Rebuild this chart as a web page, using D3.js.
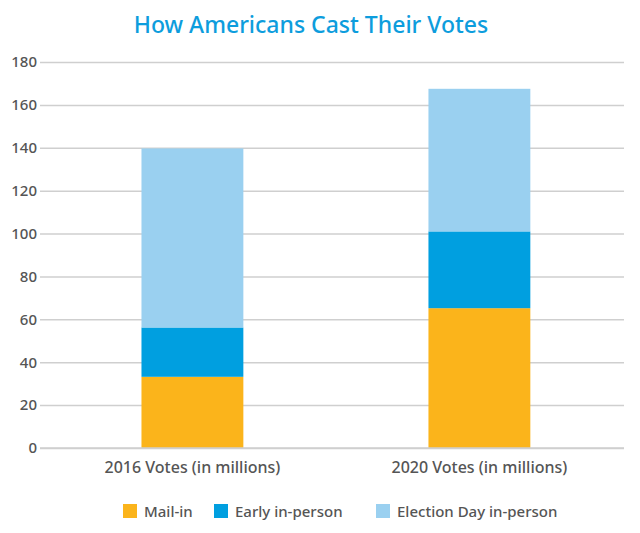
<!DOCTYPE html>
<html>
<head>
<meta charset="utf-8">
<script src="https://cdn.jsdelivr.net/npm/d3@7"></script>
<style>
	body { margin: 0; background: #fff; }
	text { font-family: "Noto Sans", Lato, sans-serif; font-weight: 500; }
</style>
</head>
<body>
<svg id="chart" width="640" height="533"></svg>
<script>
// values (millions of votes)
var categories = ["2016 Votes (in millions)", "2020 Votes (in millions)"];
var seriesNames = ["Mail-in", "Early in-person", "Election Day in-person"];
var mailIn = [33.2, 65.2];
var earlyInPerson = [23.0, 35.8];
var electionDay = [83.5, 66.5];
var yTicks = [0, 20, 40, 60, 80, 100, 120, 140, 160, 180];
var colors = ["#fbb41b", "#009fe0", "#9ad0f0"];

var svg = d3.select("#chart");
var margin = { top: 62, right: 16, bottom: 85, left: 40 };
var width = 640 - margin.left - margin.right;
var height = 533 - margin.top - margin.bottom;

var rows = categories.map(function(c, i) {
	return { cat: c, s0: mailIn[i], s1: earlyInPerson[i], s2: electionDay[i] };
});
var stack = d3.stack().keys(["s0", "s1", "s2"])(rows);

var x = d3.scaleBand().domain(categories).range([0, width])
	.paddingInner(0.645).paddingOuter(0.34).align(0.52);
var y = d3.scaleLinear().domain([0, 180]).range([height, 0]);

svg.append("text")
	.attr("x", 311).attr("y", 33)
	.attr("text-anchor", "middle")
	.style("font-size", "23px")
	.style("fill", "#0d9ddd")
	.text("How Americans Cast Their Votes");

var g = svg.append("g").attr("transform", "translate(" + margin.left + "," + margin.top + ")");

// gridlines + tick labels
var yAxis = g.append("g").call(d3.axisLeft(y).tickValues(yTicks).tickSize(-width).tickPadding(3));
yAxis.select(".domain").remove();
yAxis.selectAll(".tick line").attr("stroke", "#cfcfcf").attr("stroke-width", 1.5);
yAxis.selectAll(".tick text").style("font-size", "15px").style("fill", "#555");

g.selectAll(".layer")
	.data(stack)
	.enter()
	.append("g")
	.attr("fill", function(d, i) { return colors[i]; })
	.selectAll("rect")
	.data(function(d) { return d; })
	.enter()
	.append("rect")
	.attr("x", function(d) { return x(d.data.cat); })
	.attr("width", x.bandwidth())
	.attr("y", function(d) { return y(d[1]); })
	.attr("height", function(d) { return y(d[0]) - y(d[1]); });

// baseline over bars
g.append("line").attr("x1", 0).attr("x2", width)
	.attr("y1", y(0)).attr("y2", y(0))
	.attr("stroke", "#cfcfcf").attr("stroke-width", 1.5);

var xAxis = g.append("g").attr("transform", "translate(0," + height + ")")
	.call(d3.axisBottom(x).tickSize(0).tickPadding(14));
xAxis.select(".domain").remove();
xAxis.selectAll(".tick text").style("font-size", "16px").style("fill", "#555");

// legend
var legendX = [123, 214, 376];
var legend = svg.append("g").attr("transform", "translate(0,511)");
seriesNames.forEach(function(name, i) {
	legend.append("rect").attr("x", legendX[i]).attr("y", -7).attr("width", 14).attr("height", 14).attr("fill", colors[i]);
	legend.append("text").attr("x", legendX[i] + 21).attr("y", 5.5)
		.style("font-size", "15px").style("fill", "#555").text(name);
});
</script>
</body>
</html>
